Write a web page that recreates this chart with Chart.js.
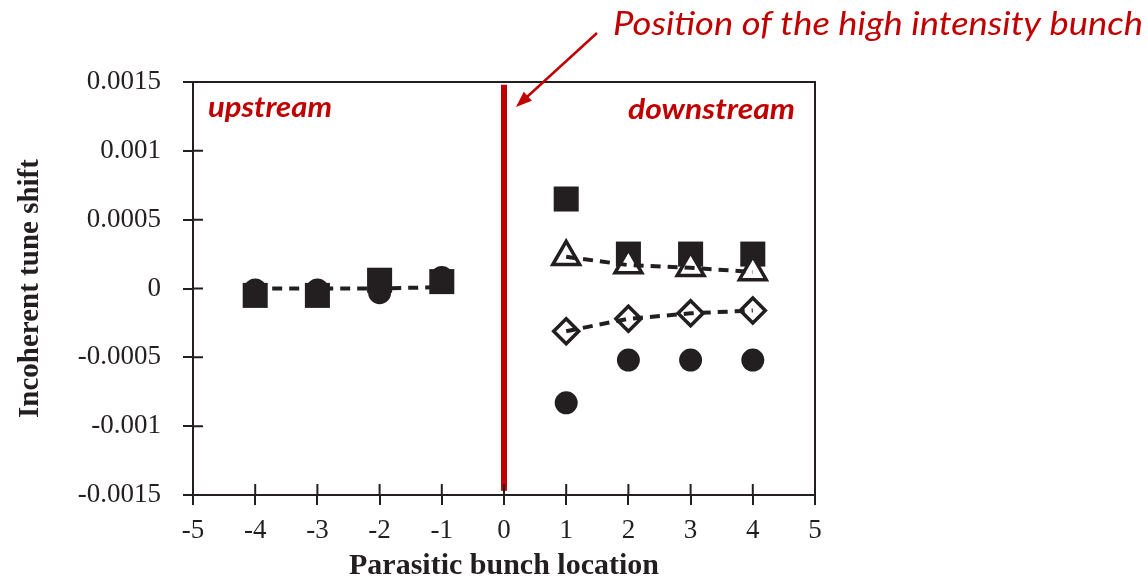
<!DOCTYPE html>
<html lang="en">
<head>
  <meta charset="UTF-8">
  <title>Incoherent tune shift vs parasitic bunch location</title>
  <script src="https://cdn.jsdelivr.net/npm/chart.js"></script>
  <style>
    html, body { margin: 0; padding: 0; background: #fff; }
    #wrap { width: 1148px; height: 581px; position: relative; }
  </style>
</head>
<body>
  <div id="wrap"><canvas id="chart" width="1148" height="581"></canvas></div>

  <script>
    // bunch locations
    const xUp = [-4, -3, -2, -1];
    const xDown = [1, 2, 3, 4];

    // filled squares / filled circles (both sides)
    const squareUp = [-0.00005, -0.00005, 0.00006, 0.00005];
    const squareDown = [0.00065, 0.00025, 0.00025, 0.00025];
    const circleUp = [-0.00001, -0.00001, -0.00003, 0.00008];
    const circleDown = [-0.00083, -0.00052, -0.00052, -0.00052];

    // open triangles / open diamonds (downstream only)
    const triangleDown = [0.00023, 0.00017, 0.00015, 0.00012];
    const diamondDown = [-0.00031, -0.00022, -0.00018, -0.00016];

    // dashed line on the upstream side
    const lineUp = [0, 0, 0, 0.00001];

    // marker for the high intensity bunch (x = 0)
    const bunchX = [0, 0];
    const bunchY = [0.00148, -0.00147];

    const xTicks = [-5, -4, -3, -2, -1, 0, 1, 2, 3, 4, 5];
    const yTicks = [-0.0015, -0.001, -0.0005, 0, 0.0005, 0.001, 0.0015];
    const yTickLabels = ['-0.0015', '-0.001', '-0.0005', '0', '0.0005', '0.001', '0.0015'];

    const xTitle = 'Parasitic bunch location';
    const yTitle = 'Incoherent tune shift';
    const upLabel = 'upstream';
    const downLabel = 'downstream';
    const noteText = 'Position of the high intensity bunch';

    const ink = '#231f20';
    const red = '#c00000';

    const pts = (xs, ys) => xs.map((x, i) => ({ x: x, y: ys[i] }));

    const dashed = (data) => ({
      data: data,
      showLine: true,
      borderColor: ink,
      borderWidth: 4,
      borderDash: [10, 7],
      pointRadius: 0,
      pointHoverRadius: 0
    });

    // draw text squeezed/stretched to a given width (x = left edge)
    function fitText(ctx, text, left, base, width) {
      const w = ctx.measureText(text).width;
      ctx.save();
      ctx.translate(left, base);
      ctx.scale(width / w, 1);
      ctx.textAlign = 'left';
      ctx.fillText(text, 0, 0);
      ctx.restore();
    }

    // inward ticks, top/right frame, texts and arrow
    const extras = {
      id: 'extras',
      afterDraw(chart) {
        const { ctx, chartArea: a, scales: { x, y } } = chart;
        ctx.save();
        ctx.strokeStyle = ink;
        ctx.lineWidth = 2;
        ctx.beginPath();
        ctx.moveTo(a.left, a.top);
        ctx.lineTo(a.right, a.top);
        ctx.lineTo(a.right, a.bottom);
        xTicks.forEach(v => {
          const px = x.getPixelForValue(v);
          ctx.moveTo(px, a.bottom);
          ctx.lineTo(px, a.bottom - 11);
        });
        yTicks.forEach(v => {
          const py = y.getPixelForValue(v);
          ctx.moveTo(a.left, py);
          ctx.lineTo(a.left + 10, py);
        });
        ctx.stroke();

        ctx.fillStyle = red;
        ctx.textBaseline = 'alphabetic';
        ctx.font = 'italic bold 28px Lato';
        fitText(ctx, upLabel, a.left + 15, a.top + 35, 124);
        fitText(ctx, downLabel, a.right - 187, a.top + 37, 167);

        ctx.font = 'italic 32px Lato';
        fitText(ctx, noteText, 613, 35, 530);

        // arrow towards the red line
        const tipX = x.getPixelForValue(0) + 12;
        const tipY = a.top + 25;
        const sx = 597, sy = 33;
        const ang = Math.atan2(tipY - sy, tipX - sx);
        ctx.strokeStyle = red;
        ctx.lineWidth = 2.5;
        ctx.beginPath();
        ctx.moveTo(sx, sy);
        ctx.lineTo(tipX - Math.cos(ang) * 10, tipY - Math.sin(ang) * 10);
        ctx.stroke();
        ctx.beginPath();
        ctx.moveTo(tipX, tipY);
        ctx.lineTo(tipX - Math.cos(ang) * 16 + Math.sin(ang) * 6, tipY - Math.sin(ang) * 16 - Math.cos(ang) * 6);
        ctx.lineTo(tipX - Math.cos(ang) * 16 - Math.sin(ang) * 6, tipY - Math.sin(ang) * 16 + Math.cos(ang) * 6);
        ctx.closePath();
        ctx.fill();
        ctx.restore();
      }
    };

    new Chart(document.getElementById('chart').getContext('2d'), {
      type: 'scatter',
      data: {
        datasets: [
          dashed(pts(xDown, triangleDown)),
          dashed(pts(xDown, diamondDown)),
          dashed(pts(xUp, lineUp)),
          {
            data: pts(xDown, triangleDown),
            pointStyle: 'triangle',
            pointRadius: 15.5,
            pointBackgroundColor: '#fff',
            pointBorderColor: ink,
            pointBorderWidth: 3.5
          },
          {
            data: pts(xDown, diamondDown),
            pointStyle: 'rectRot',
            pointRadius: 12.5,
            pointBackgroundColor: '#fff',
            pointBorderColor: ink,
            pointBorderWidth: 3.5
          },
          {
            data: pts(xUp, squareUp).concat(pts(xDown, squareDown)),
            pointStyle: 'rect',
            pointRadius: 17.7,
            pointBackgroundColor: ink,
            pointBorderWidth: 0
          },
          {
            data: pts(xUp, circleUp).concat(pts(xDown, circleDown)),
            pointStyle: 'circle',
            pointRadius: 11.5,
            pointBackgroundColor: ink,
            pointBorderWidth: 0
          },
          {
            data: pts(bunchX, bunchY),
            showLine: true,
            borderColor: red,
            borderWidth: 6,
            pointRadius: 0
          }
        ]
      },
      options: {
        responsive: false,
        animation: false,
        layout: { padding: { top: 82, right: 333, left: 0, bottom: 0 } },
        plugins: { legend: { display: false }, tooltip: { enabled: false } },
        scales: {
          x: {
            type: 'linear',
            min: -5,
            max: 5,
            afterFit: (s) => { s.height = 86; },
            afterBuildTicks: (s) => { s.ticks = xTicks.map(v => ({ value: v })); },
            grid: { drawOnChartArea: false, drawTicks: true, tickLength: 10, color: ink, lineWidth: 2 },
            border: { display: true, color: ink, width: 2 },
            ticks: {
              color: ink,
              padding: 10,
              maxRotation: 0,
              font: { family: 'Liberation Serif', size: 27 },
              callback: (v) => String(v)
            },
            title: {
              display: true,
              text: xTitle,
              color: ink,
              font: { family: 'Liberation Serif', size: 30, weight: 'bold' },
              padding: { top: 0, bottom: -3 }
            }
          },
          y: {
            type: 'linear',
            min: -0.0015,
            max: 0.0015,
            afterFit: (s) => { s.width = 193; },
            afterBuildTicks: (s) => { s.ticks = yTicks.map(v => ({ value: v })); },
            grid: { drawOnChartArea: false, drawTicks: true, tickLength: 10, color: ink, lineWidth: 2 },
            border: { display: true, color: ink, width: 2 },
            ticks: {
              color: ink,
              padding: 22,
              font: { family: 'Liberation Serif', size: 27 },
              callback: (v, i) => yTickLabels[i]
            },
            title: {
              display: true,
              text: yTitle,
              color: ink,
              font: { family: 'Liberation Serif', size: 29, weight: 'bold' },
              padding: { top: 13, bottom: 0 }
            }
          }
        }
      },
      plugins: [extras]
    });
  </script>
</body>
</html>
